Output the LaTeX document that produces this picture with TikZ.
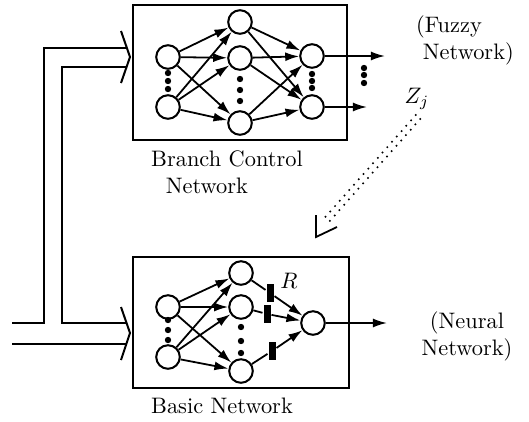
\documentclass[tikz,border=0pt]{standalone}
\usepackage{amsmath}
\usepackage{tikz}
\usetikzlibrary{arrows.meta,calc}
\tikzstyle{neuron}=[draw,shape=circle,minimum size=3.7mm,inner sep=0pt,line width=0.9pt]
\tikzstyle{vdot}=[fill,shape=circle,minimum size=1mm,inner sep=0pt]
\tikzstyle{syn}=[-{Latex[length=2.2mm,width=1.4mm]},line width=0.8pt]
\tikzstyle{resist}=[fill,shape=rectangle,minimum width=1.1mm,minimum height=2.8mm,inner sep=0pt]
\tikzstyle{zdots}=[line width=1pt,line cap=round,dash pattern=on 0pt off 3.2pt]

\begin{document}
\begin{tikzpicture}[x=0.157cm, y=-0.157cm, line width=0.9pt]
\useasboundingbox (0,0) rectangle (52.9,42.1);
% the two boxes
\node[draw, minimum width=3.36cm, minimum height=2.12cm] (BCN) at (24.0,7.25) {};
\node[draw, minimum width=3.39cm, minimum height=2.06cm] (BN) at (24.1,32.25) {};
\node[align=left] (BCNlab) at (22.7,17.2) {Branch Control\\\hspace*{0.65em}Network};
\node (BNlab) at (22.2,40.6) {Basic Network};
\node[align=left] (FNlab) at (46.5,4.0) {(Fuzzy\\\hspace*{0.3em}Network)};
\node[align=center] (NNlab) at (46.7,33.6) {(Neural\\Network)};
% branch control network
\node[neuron] (FIn1) at (16.8,5.7) {};
\node[neuron] (FIn2) at (16.8,10.7) {};
\node[neuron] (FHid1) at (24.0,2.2) {};
\node[neuron] (FHid2) at (24.0,5.8) {};
\node[neuron] (FHid3) at (24.0,12.3) {};
\node[neuron] (FOut1) at (31.2,5.6) {};
\node[neuron] (FOut2) at (31.2,10.7) {};
\coordinate (FEnd1) at (38.5,5.6);
\coordinate (FEnd2) at (36.7,10.7);
\node[vdot] at (16.8,7.3) {};
\node[vdot] at (16.8,8.1) {};
\node[vdot] at (16.8,8.9) {};
\node[vdot] at (24.0,7.9) {};
\node[vdot] at (24.0,9.0) {};
\node[vdot] at (24.0,10.1) {};
\node[vdot] at (31.2,7.4) {};
\node[vdot] at (31.2,8.1) {};
\node[vdot] at (31.2,8.8) {};
\node[vdot] at (36.4,6.8) {};
\node[vdot] at (36.4,7.5) {};
\node[vdot] at (36.4,8.3) {};
\draw[syn] (FIn1) -- (FHid1);
\draw[syn] (FIn1) -- (FHid2);
\draw[syn] (FIn1) -- (FHid3);
\draw[syn] (FIn2) -- (FHid1);
\draw[syn] (FIn2) -- (FHid2);
\draw[syn] (FIn2) -- (FHid3);
\draw[syn] (FHid1) -- (FOut1);
\draw[syn] (FHid1) -- (FOut2);
\draw[syn] (FHid2) -- (FOut1);
\draw[syn] (FHid2) -- (FOut2);
\draw[syn] (FHid3) -- (FOut1);
\draw[syn] (FHid3) -- (FOut2);
\draw[syn] (FOut1) -- (FEnd1);
\draw[syn] (FOut2) -- (FEnd2);
% basic network
\node[neuron] (NIn1) at (16.8,30.7) {};
\node[neuron] (NIn2) at (16.8,35.7) {};
\node[neuron] (NHid1) at (24.1,27.3) {};
\node[neuron] (NHid2) at (24.1,30.7) {};
\node[neuron] (NHid3) at (24.1,37.1) {};
\node[neuron] (NOut) at (31.3,32.3) {};
\coordinate (NEnd) at (38.7,32.3);
\node[resist] (R1) at (27.0,29.3) {};
\node[resist] (R2) at (26.7,31.4) {};
\node[resist] (R3) at (27.2,35.1) {};
\node (Rlab) at (28.9,28.1) {$R$};
\node[vdot] at (16.8,32.0) {};
\node[vdot] at (16.8,33.0) {};
\node[vdot] at (16.8,34.0) {};
\node[vdot] at (24.1,32.7) {};
\node[vdot] at (24.1,34.1) {};
\node[vdot] at (24.1,35.3) {};
\draw[syn] (NIn1) -- (NHid1);
\draw[syn] (NIn1) -- (NHid2);
\draw[syn] (NIn1) -- (NHid3);
\draw[syn] (NIn2) -- (NHid1);
\draw[syn] (NIn2) -- (NHid2);
\draw[syn] (NIn2) -- (NHid3);
\draw[line width=0.8pt] (NHid1) -- (R1);
\draw[line width=0.8pt] (NHid2) -- (R2);
\draw[line width=0.8pt] (NHid3) -- (R3);
\draw[syn] (R1) -- (NOut);
\draw[syn] (R2) -- (NOut);
\draw[syn] (R3) -- (NOut);
\draw[syn] (NOut) -- (NEnd);
% input bus and its branch
\coordinate (BusA) at (1.2,32.3);
\coordinate (BusB) at (1.2,34.4);
\coordinate (TopA) at (12.7,4.8);
\coordinate (TopB) at (12.65,6.7);
\coordinate (BotA) at (12.65,32.3);
\coordinate (BotB) at (12.65,34.4);
\draw (BusA) -- (4.4,32.3) |- (TopA);
\draw (TopB) -| (6.2,32.3) -- (BotA);
\draw (BusB) -- (BotB);
\draw (12.1,3.1) -- (13.0,5.7) -- (12.1,8.3);
\draw (12.1,30.7) -- (13.0,33.3) -- (12.1,36.0);
% Z_j feedback
\node (Zlab) at (41.7,9.9) {$Z_j$};
\coordinate (Zs) at (41.8,11.7);
\coordinate (Ze) at (32.4,22.3);
\coordinate (Zt) at (31.6,23.7);
\draw[zdots] ($(Zs)+(0.22,0.2)$) -- ($(Ze)+(0.22,0.2)$);
\draw[zdots] ($(Zs)-(0.22,0.2)$) -- ($(Ze)-(0.22,0.2)$);
\draw[line width=0.8pt] (31.6,21.5) -- (Zt) -- (33.7,22.7);
\end{tikzpicture}
\end{document}
